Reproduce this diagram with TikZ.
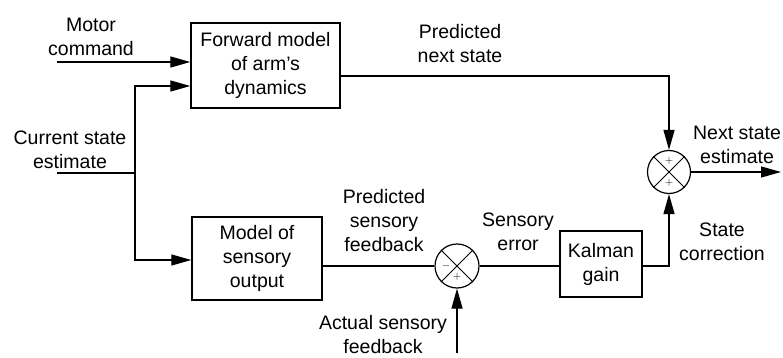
\documentclass[tikz,border=0pt]{standalone}
\usepackage{fontspec}
\setmainfont{Liberation Sans}
\usetikzlibrary{arrows.meta}
\begin{document}
\begin{tikzpicture}[x=1pt,y=-1pt,
  every node/.style={font=\fontsize{19.5}{24}\selectfont, align=center, inner sep=0pt},
  sumj/.style={draw, circle, line width=1.2pt, minimum size=44pt, inner sep=0pt},
  wire/.style={line width=1.2pt},
  arr/.style={wire, -{Triangle[length=20pt,width=11pt]}},
  sgn/.style={font=\fontsize{11}{11}\selectfont}
]
\useasboundingbox (0,0) rectangle (783,358);

% blocks
\node[draw, line width=1.4pt, minimum width=149pt, minimum height=85pt] (fwd) at (265.5,65.5) {Forward model\\of arm's\\dynamics};
\node[draw, line width=1.4pt, minimum width=130pt, minimum height=83pt] (sens) at (257,258.5) {Model of\\sensory\\output};
\node[draw, line width=1.4pt, minimum width=82pt, minimum height=66pt] (kal) at (601,264) {Kalman\\gain};

% summing junctions
\node[sumj] (s1) at (457,266) {};
\node[sumj, minimum size=43pt] (s2) at (669,172) {};
\draw[line width=1pt] (s1.north west) -- (s1.south east) (s1.north east) -- (s1.south west);
\draw[line width=1pt] (s2.north west) -- (s2.south east) (s2.north east) -- (s2.south west);
\node[sgn] (s1m) at ([xshift=-11pt]s1.center) {$-$};
\node[sgn] (s1p) at ([yshift=-11pt]s1.center) {$+$};
\node[sgn] (s2t) at ([yshift=11pt]s2.center) {$+$};
\node[sgn] (s2b) at ([yshift=-11pt]s2.center) {$+$};

% coordinates
\coordinate (mc) at (57,62);
\coordinate (cs) at (57,173);
\coordinate (jn) at (135,173);
\coordinate (as) at (457,353);
\coordinate (out) at (781,172);

% connectors
\draw[arr] (mc) -- (mc -| fwd.west);
\draw[wire] (cs) -- (jn);
\draw[arr] (jn) |- ([yshift=-20.5pt]fwd.west);
\draw[arr] (jn) |- ([yshift=-1.5pt]sens.west);
\draw[arr] ([yshift=-10.5pt]fwd.east) -| (s2.north);
\draw[wire] (sens.east |- s1.west) -- (s1.west);
\draw[wire] (s1.east) -- (s1.east -| kal.west);
\draw[arr] ([yshift=-2pt]kal.east) -| (s2.south);
\draw[arr] (as) -- (s1.south);
\draw[arr] (s2.east) -- (out);

% labels
\node (lmc) at (91,37) {Motor\\command};
\node (lcs) at (70,150) {Current state\\estimate};
\node (lpn) at (460,44) {Predicted\\next state};
\node (lns) at (737,145) {Next state\\estimate};
\node (lps) at (384,221) {Predicted\\sensory\\feedback};
\node (lse) at (518,232) {Sensory\\error};
\node (lsc) at (722,242) {State\\correction};
\node (las) at (383,335) {Actual sensory\\feedback};
\end{tikzpicture}
\end{document}
